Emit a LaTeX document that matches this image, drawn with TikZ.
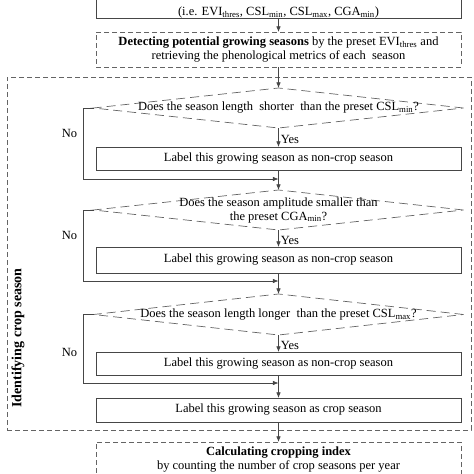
\documentclass[tikz,border=0pt]{standalone}
\usepackage{fontspec}
\setmainfont{Liberation Serif}
\usepackage{xcolor}
\usetikzlibrary{arrows.meta,positioning,shapes.geometric}
\definecolor{linegray}{RGB}{70,70,70}
\definecolor{dashgray}{RGB}{100,100,100}

\begin{document}
\begin{tikzpicture}[
  x=1pt, y=1pt,
  font=\fontsize{12.5}{14}\selectfont,
  procbox/.style={rectangle, draw=linegray, line width=0.7pt, minimum width=365pt, minimum height=24pt, align=center, inner sep=3pt, outer sep=0pt},
  stagebox/.style={procbox, draw=dashgray, dash pattern=on 5pt off 3pt, line width=0.9pt},
  framebox/.style={rectangle, draw=dashgray, dash pattern=on 5pt off 3pt, line width=0.9pt, inner sep=0pt, outer sep=0pt},
  decision/.style={diamond, draw=dashgray, dash pattern=on 9pt off 5pt, line width=0.7pt, minimum width=370pt, minimum height=40pt, inner sep=0pt, outer sep=0pt},
  asktext/.style={align=center, inner sep=0pt},
  answer/.style={text=black, inner sep=2pt},
  arrow/.style={-{Latex[length=2mm,width=1.6mm]}, line width=0.7pt, color=linegray}
]
\useasboundingbox (0,0) rectangle (474,-474);

\node[procbox, text height=30pt, text depth=2pt, inner ysep=0.5pt, anchor=south] (params) at (278.5,-18) {(i.e. EVI\textsubscript{thres}, CSL\textsubscript{min}, CSL\textsubscript{max}, CGA\textsubscript{min})};
\node[stagebox, minimum height=35pt, below=14pt of params] (detect) {\textbf{Detecting potential growing seasons} by the preset EVI\textsubscript{thres} and\\retrieving the phenological metrics of each \ season};

\node[framebox, minimum width=464pt, minimum height=353pt] (frame) at (239,-253.5) {};
\node[rotate=90, font=\fontsize{14}{16}\selectfont] (stage) at (18,-338) {\textbf{Identifying crop season}};

\node[decision, below=21pt of detect, label={[asktext]center:Does the season length \ shorter \ than the preset CSL\textsubscript{min}?}] (d1) {};
\node[procbox, minimum height=23pt, below=19pt of d1] (nc1) {Label this growing season as non-crop season};
\coordinate[below=9pt of nc1] (m1);

\node[decision, below=20pt of nc1, label={[asktext]center:Does the season amplitude smaller than\\the preset CGA\textsubscript{min}?}] (d2) {};
\node[procbox, minimum height=26pt, below=17pt of d2] (nc2) {Label this growing season as non-crop season};
\coordinate[below=8pt of nc2] (m2);

\node[decision, minimum height=41pt, below=21pt of nc2, label={[asktext]center:Does the season length longer \ than the preset CSL\textsubscript{max}?}] (d3) {};
\node[procbox, minimum height=23pt, below=17pt of d3] (nc3) {Label this growing season as non-crop season};
\coordinate[below=8pt of nc3] (m3);

\node[procbox, below=23pt of nc3] (crop) {Label this growing season as crop season};
\node[stagebox, minimum height=36pt, below=20pt of crop] (calc) {\textbf{Calculating cropping index}\\by counting the number of crop seasons per year};

% main column
\draw[arrow] (params) -- (detect);
\draw[arrow] (detect) -- (d1);
\draw[arrow] (d1) -- node[right, pos=0.6, answer] {Yes} (nc1);
\draw[arrow] (nc1) -- (d2);
\draw[arrow] (d2) -- node[right, pos=0.6, answer] {Yes} (nc2);
\draw[arrow] (nc2) -- (d3);
\draw[arrow] (d3) -- node[right, pos=0.6, answer] {Yes} (nc3);
\draw[arrow] (nc3) -- (crop);
\draw[arrow] (crop) -- (calc);

% no branches
\draw[arrow] (d1.west) -- ++(-10,0) |- node[left, pos=0.18, answer, inner sep=6pt] {No} (m1);
\draw[arrow] (d2.west) -- ++(-10,0) |- node[left, pos=0.18, answer, inner sep=6pt] {No} (m2);
\draw[arrow] (d3.west) -- ++(-10,0) |- node[left, pos=0.28, answer, inner sep=6pt] {No} (m3);
\end{tikzpicture}
\end{document}
